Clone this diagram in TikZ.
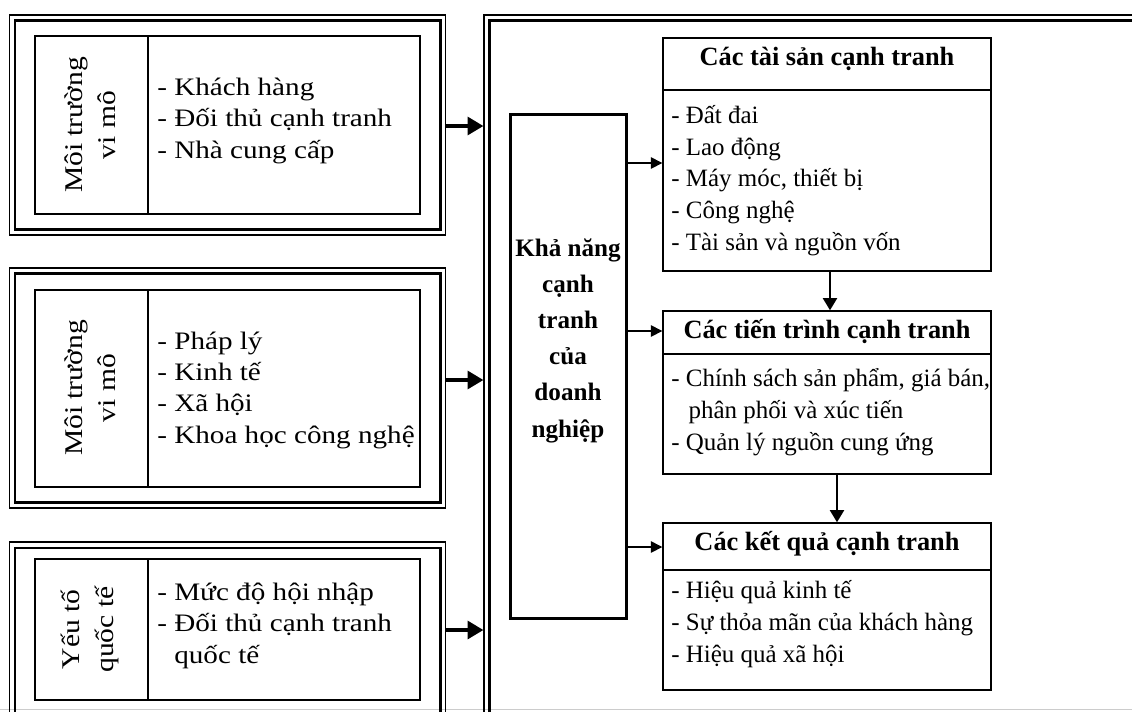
\documentclass[tikz,border=0pt]{standalone}
\usepackage{fontspec}
\setmainfont{Liberation Serif}
\newfontfamily\widefont[FakeStretch=1.16]{Liberation Serif}
\usetikzlibrary{arrows.meta,fit}
\begin{document}
\begin{tikzpicture}[x=0.02cm,y=-0.02cm,
  outerline/.style={draw, line width=0.6pt, inner sep=0pt},
  innerline/.style={draw, line width=1.5pt, inner sep=0pt},
  tbl/.style={draw, line width=0.6pt, inner sep=0pt},
  cbox/.style={draw, line width=1.7pt, inner sep=0pt},
  rbox/.style={draw, line width=0.8pt, inner sep=0pt},
  tblline/.style={line width=0.6pt},
  rline/.style={line width=0.8pt},
  bigarrow/.style={-{Triangle[length=9pt,width=10pt]}, line width=2.3pt},
  smallarrow/.style={-{Triangle[length=6.5pt,width=6.5pt]}, line width=0.85pt},
  downarrow/.style={-{Triangle[length=7pt,width=8pt]}, line width=1.4pt},
  litem/.style={font=\widefont\fontsize{14.3}{17.7}\selectfont, align=left, anchor=base west, inner sep=0pt},
  ritem/.style={font=\fontsize{14.2}{18}\selectfont, align=left, anchor=base west, inner sep=0pt},
  head/.style={font=\bfseries\fontsize{15}{18}\selectfont, anchor=base, inner sep=0pt},
  vlabel/.style={font=\widefont\fontsize{14.5}{18.8}\selectfont, align=center, rotate=90, inner sep=0pt},
  ctext/.style={font=\bfseries\fontsize{14.3}{20.5}\selectfont, align=center, anchor=base, inner sep=0pt}
]
\useasboundingbox (0,0) rectangle (1132,711);
\clip (0,0) rectangle (1132,711);
\draw[gray!40, line width=0.6pt] (0,709.5) -- (1132,709.5);

% left box 1
\node[outerline, fit={(9.3,15) (445.7,235)}] (L1o) {};
\node[innerline, fit={(15,20.7) (440.7,229.3)}] (L1i) {};
\node[tbl, fit={(35,36) (420,214)}] (T1) {};
\draw[tblline] (148,36) -- (148,214);
\node[vlabel] (V1) at (90,125) {Môi trường\\vi mô};
\node[litem] (I1) at (157,158) {- Khách hàng\\- Đối thủ cạnh tranh\\- Nhà cung cấp};

% left box 2
\node[outerline, fit={(9.3,268) (445.7,508)}] (L2o) {};
\node[innerline, fit={(15,273.5) (440.7,502.5)}] (L2i) {};
\node[tbl, fit={(35,290) (420,487)}] (T2) {};
\draw[tblline] (148,290) -- (148,487);
\node[vlabel] (V2) at (90,388) {Môi trường\\vi mô};
\node[litem] (I2) at (157,443) {- Pháp lý\\- Kinh tế\\- Xã hội\\- Khoa học công nghệ};

% left box 3
\node[outerline, fit={(9.3,542) (445.7,730)}] (L3o) {};
\node[innerline, fit={(15,548) (440.7,724)}] (L3i) {};
\node[tbl, fit={(35,559) (420,700)}] (T3) {};
\draw[tblline] (148,559) -- (148,700);
\node[vlabel] (V3) at (90,629.5) {Yếu tố\\quốc tế};
\node[litem] (I3) at (157,663) {- Mức độ hội nhập\\- Đối thủ cạnh tranh\\\hphantom{- }quốc tế};

% big right box
\node[outerline, fit={(484,15) (1150,730)}] (Bo) {};
\node[innerline, fit={(489.5,20.7) (1145,724)}] (Bi) {};

% thick arrows
\coordinate (s1) at (445.7,126);
\coordinate (s2) at (445.7,380);
\coordinate (s3) at (445.7,630);
\draw[bigarrow] (s1) -- (s1 -| Bo.west);
\draw[bigarrow] (s2) -- (s2 -| Bo.west);
\draw[bigarrow] (s3) -- (s3 -| Bo.west);

% center box
\node[cbox, fit={(510,114) (626,618)}] (C) {};
\node[ctext] (CT) at (568,437) {Khả năng\\cạnh\\tranh\\của\\doanh\\nghiệp};

% right boxes
\node[rbox, fit={(663,38) (991,271)}] (A) {};
\draw[rline] (663,90) -- (991,90);
\node[head] (AH) at (827,65) {Các tài sản cạnh tranh};
\node[ritem] (AI) at (671,250) {- Đất đai\\- Lao động\\- Máy móc, thiết bị\\- Công nghệ\\- Tài sản và nguồn vốn};

\node[rbox, fit={(663,311) (991,474)}] (B) {};
\draw[rline] (663,354) -- (991,354);
\node[head] (BH) at (827,338) {Các tiến trình cạnh tranh};
\node[ritem] (BI) at (671,450) {- Chính sách sản phẩm, giá bán,\\\hspace*{9.8pt}phân phối và xúc tiến\\- Quản lý nguồn cung ứng};

\node[rbox, fit={(663,523) (991,690)}] (D) {};
\draw[rline] (663,570) -- (991,570);
\node[head] (DH) at (827,550) {Các kết quả cạnh tranh};
\node[ritem] (DI) at (671,662) {- Hiệu quả kinh tế\\- Sự thỏa mãn của khách hàng\\- Hiệu quả xã hội};

% small arrows from center
\coordinate (c1) at (626,163);
\coordinate (c2) at (626,331);
\coordinate (c3) at (626,547);
\draw[smallarrow] (c1) -- (c1 -| A.west);
\draw[smallarrow] (c2) -- (c2 -| B.west);
\draw[smallarrow] (c3) -- (c3 -| D.west);

% down arrows
\draw[downarrow] (A.south -| 830,0) -- (B.north -| 830,0);
\draw[downarrow] (B.south -| 837,0) -- (D.north -| 837,0);
\end{tikzpicture}
\end{document}
